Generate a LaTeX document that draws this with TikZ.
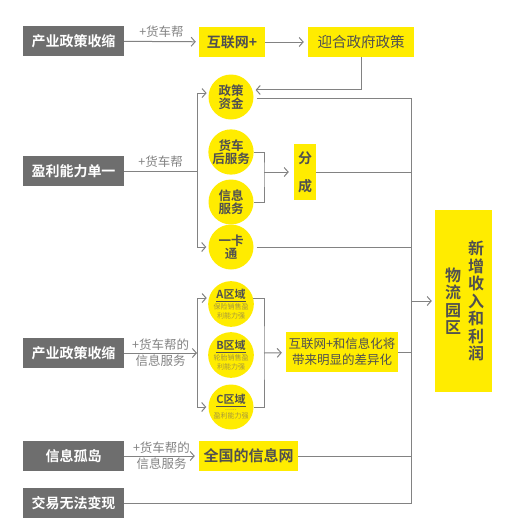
\documentclass[tikz,border=0pt]{standalone}
\usepackage{fontspec}
\setmainfont{Noto Sans CJK SC}[BoldFont={Noto Sans CJK SC Bold}]
\usetikzlibrary{arrows.meta}
\definecolor{hy}{RGB}{255,236,0}
\definecolor{hg}{RGB}{110,110,110}
\definecolor{ht}{RGB}{80,80,80}
\definecolor{hl}{RGB}{130,130,130}
\definecolor{hs}{RGB}{165,150,60}
\tikzset{
	grey box/.style={fill=hg, text=white, font=\bfseries\fontsize{14}{16}\selectfont, minimum width=101pt, minimum height=30pt, inner sep=0pt},
	yellow box/.style={fill=hy, text=ht, minimum height=30pt, inner sep=0pt, font=\fontsize{14.5}{16}\selectfont},
	disc/.style={circle, fill=hy, text=ht, minimum size=45pt, inner sep=0pt, align=center, font=\bfseries\fontsize{12.5}{13.5}\selectfont},
	zone/.style={disc, font=\fontsize{7}{8.5}\selectfont, text=hs},
	column/.style={text=ht, align=center, inner sep=0pt, font=\bfseries\fontsize{16}{17.5}\selectfont},
	link/.style={draw=hl, line width=1pt},
	flow/.style={link, -{Straight Barb[length=4pt,width=9pt]}},
	hint/.style={text=hl, align=center, font=\fontsize{12.5}{16}\selectfont},
}
\begin{document}
\begin{tikzpicture}[x=1pt, y=-1pt]
	\useasboundingbox (0,0) rectangle (514,531);
	% left column
	\node[grey box] (shrink1) at (73.5,41) {产业政策收缩};
	\node[grey box] (profit) at (73.5,171) {盈利能力单一};
	\node[grey box] (shrink2) at (73.5,353) {产业政策收缩};
	\node[grey box] (island) at (73.5,456) {信息孤岛};
	\node[grey box] (cash) at (73.5,503) {交易无法变现};
	% top row
	\node[yellow box, minimum width=66pt, font=\bfseries\fontsize{14}{16}\selectfont] (web) at (232,42) {互联网+};
	\node[yellow box, minimum width=106pt] (policy) at (361,42) {迎合政府政策};
	% circles
	\node[disc] (fund) at (231,97) {政策\\资金};
	\node[disc] (after) at (231,152) {货车\\后服务};
	\node[disc] (info) at (231,202) {信息\\服务};
	\node[disc] (card) at (231,247) {一卡\\通};
	\node[yellow box, minimum width=22pt, minimum height=56pt, align=center, font=\bfseries\fontsize{14}{28}\selectfont] (share) at (305,172) {分\\成};
	\node[zone] (zoneA) at (231,304) {{\bfseries\fontsize{11}{12}\selectfont\color{ht}\underline{A区域}}\\[1pt]保险销售盈\\利能力强};
	\node[zone] (zoneB) at (231,355) {{\bfseries\fontsize{11}{12}\selectfont\color{ht}\underline{B区域}}\\[1pt]轮胎销售盈\\利能力强};
	\node[zone] (zoneC) at (231,407) {{\bfseries\fontsize{11}{12}\selectfont\color{ht}\underline{C区域}}\\[-2pt]......\\盈利能力强};
	\node[yellow box, minimum width=112pt, minimum height=40pt, align=center, font=\fontsize{12.5}{16}\selectfont] (diff) at (342,352) {互联网+和信息化将\\带来明显的差异化};
	\node[yellow box, minimum width=99pt, font=\bfseries\fontsize{15}{16}\selectfont] (net) at (248.5,456) {全国的信息网};
	% result
	\node[fill=hy, minimum width=57pt, minimum height=182pt] (park) at (463.5,301) {};
	\node[column] (park1) at ([xshift=12.5pt]park.center) {新\\增\\收\\入\\和\\利\\润};
	\node[column] (park2) at ([xshift=-10.5pt]park.center) {物\\流\\园\\区};
	% joints
	\coordinate (bus) at (411,0);
	\coordinate (fork2) at (197,171);
	\coordinate (fork3) at (264,172);
	\coordinate (fork4) at (197,353);
	\coordinate (fork5) at (264,353);
	% connectors
	\draw[flow, shorten >=3pt] (shrink1) -- node[hint, above] {+货车帮} (web);
	\draw[flow, shorten >=4pt] (web) -- (policy);
	\draw[flow, shorten >=3pt] (policy.south) |- (fund.18);
	\draw[link, shorten <=3pt] (fund.-5) -| (bus |- cash) -- (cash);
	\draw[link] (profit) -- node[hint, above] {+货车帮} (fork2);
	\draw[flow, shorten >=2pt] (fork2) |- (fund.170);
	\draw[flow, shorten >=2pt] (fork2) |- (card);
	\draw[link] (after.east) -| (fork3) |- (info.east);
	\draw[flow, shorten >=5pt] (fork3) -- (share);
	\draw[link] (share) -- (bus |- share);
	\draw[link, shorten <=3pt] (card) -- (bus |- card);
	\draw[flow] (shrink2) -- node[hint] {+货车帮的\\信息服务} (fork4);
	\draw[flow, shorten >=2pt] (fork4) |- (zoneA.165);
	\draw[flow, shorten >=2pt] (fork4) |- (zoneC.west);
	\draw[link] (zoneA.15) -| (fork5) |- (zoneC.east);
	\draw[flow, shorten >=4pt] (fork5) -- (diff);
	\draw[link] (diff) -- (bus |- diff);
	\draw[flow, shorten >=4pt] (island) -- node[hint] {+货车帮的\\信息服务} (net);
	\draw[link] (net) -- (bus |- net);
	\draw[flow, shorten >=3pt] (bus |- park) -- (park);
\end{tikzpicture}
\end{document}
